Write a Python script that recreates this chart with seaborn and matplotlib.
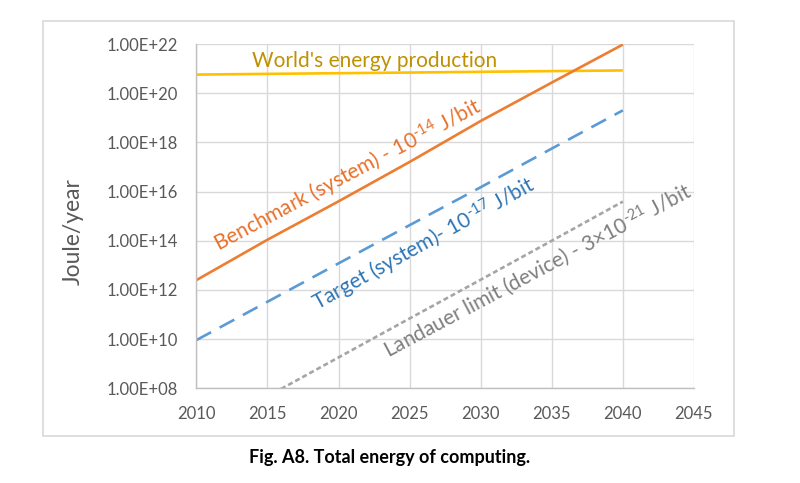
import numpy as np
import pandas as pd
import seaborn as sns
import matplotlib.pyplot as plt
from matplotlib.patches import Rectangle
from matplotlib.ticker import NullLocator

# data (5-year steps)
years = [2010, 2015, 2020, 2025, 2030, 2035, 2040]
world = [5.7e20, 6.1e20, 6.5e20, 6.9e20, 7.4e20, 7.9e20, 8.4e20]
benchmark = [2.5e12, 1.1e14, 4.0e15, 1.6e17, 7.4e18, 2.7e20, 9.5e21]
target = [9.1e9, 3.3e11, 1.2e13, 4.3e14, 1.5e16, 5.6e17, 2.0e19]
landauer = [1.2e6, 4.7e7, 1.8e9, 6.9e10, 2.6e12, 1.0e14, 3.9e15]

x_ticks = [2010, 2015, 2020, 2025, 2030, 2035, 2040, 2045]
y_ticks = [1e8, 1e10, 1e12, 1e14, 1e16, 1e18, 1e20, 1e22]
y_labels = ['1.00E+08', '1.00E+10', '1.00E+12', '1.00E+14',
            '1.00E+16', '1.00E+18', '1.00E+20', '1.00E+22']

sns.set_style('white')
plt.rcParams['font.family'] = ['Lato', 'DejaVu Sans']
plt.rcParams['mathtext.fontset'] = 'custom'
plt.rcParams['mathtext.rm'] = 'Lato'
plt.rcParams['mathtext.it'] = 'Lato:italic'
plt.rcParams['mathtext.bf'] = 'Lato:bold'

df = pd.DataFrame({'year': years, 'world': world, 'benchmark': benchmark,
                   'target': target, 'landauer': landauer})

fig = plt.figure(figsize=(8, 4.83), dpi=100)
ax = fig.add_axes([0.2455, 0.1961, 0.6219, 0.7128])

# series: column, colour, dashes (points, None = solid)
series = [
    ('world', '#FFC000', None),
    ('benchmark', '#ED7D31', None),
    ('target', '#5B9BD5', (12, 7)),
    ('landauer', '#A5A5A5', (3.6, 2.2)),
]
for col, color, dash in series:
    sns.lineplot(data=df, x='year', y=col, ax=ax, color=color, linewidth=1.9)
    line = ax.lines[-1]
    line.set_solid_capstyle('butt')
    if dash is not None:
        line.set_dashes([d / 1.9 for d in dash])
        line.set_dash_capstyle('butt')

ax.set_yscale('log')
ax.set_xlim(2010, 2045)
ax.set_ylim(1e8, 1e22)
ax.set_xticks(x_ticks)
ax.set_yticks(y_ticks)
ax.set_yticklabels(y_labels)
ax.yaxis.set_minor_locator(NullLocator())
ax.tick_params(length=0, labelsize=12, colors='#595959')
ax.tick_params(axis='y', pad=13)
ax.tick_params(axis='x', pad=13)
ax.grid(True, color='#D9D9D9', linewidth=1)
for side in ['top', 'right']:
    ax.spines[side].set_visible(False)
for side in ['left', 'bottom']:
    ax.spines[side].set_color('#BFBFBF')
    ax.spines[side].set_linewidth(1)

ax.set_xlabel('')
ax.set_ylabel('')
fig.text(73.5 / 800, 1 - 232 / 483, 'Joule/year', rotation=90, ha='center',
         va='center', fontsize=16.5, color='#595959')

# annotations along the lines
ax.text(2022.5, 10**21.3, "World's energy production", ha='center', va='center',
        fontsize=15, color='#BF9000')
ax.text(2020.7, 10**16.63, r'Benchmark (system) - 10$^{\text{-14}}$ J/bit', ha='center',
        va='center', rotation=28, rotation_mode='anchor', fontsize=15, color='#E8702A')
ax.text(2026.0, 10**13.87, r'Target (system)- 10$^{\text{-17}}$ J/bit', ha='center',
        va='center', rotation=29, rotation_mode='anchor', fontsize=15, color='#2E75B6')
ax.text(2034.0, 10**12.77, r'Landauer limit (device) - 3$\times$10$^{\text{-21}}$ J/bit',
        ha='center', va='center', rotation=28, rotation_mode='anchor', fontsize=15,
        color='#7F7F7F')

# chart frame
fig.patches.append(Rectangle((43 / 800, 1 - 435.7 / 483), 691 / 800, 415 / 483,
                             transform=fig.transFigure, fill=False,
                             edgecolor='#D9D9D9', linewidth=1.2))

fig.text(390 / 800, 1 - 458 / 483, 'Fig. A8. Total energy of computing.', ha='center',
         va='center', fontsize=13, fontweight='bold', color='black')

fig.savefig('out.png', dpi=100)
